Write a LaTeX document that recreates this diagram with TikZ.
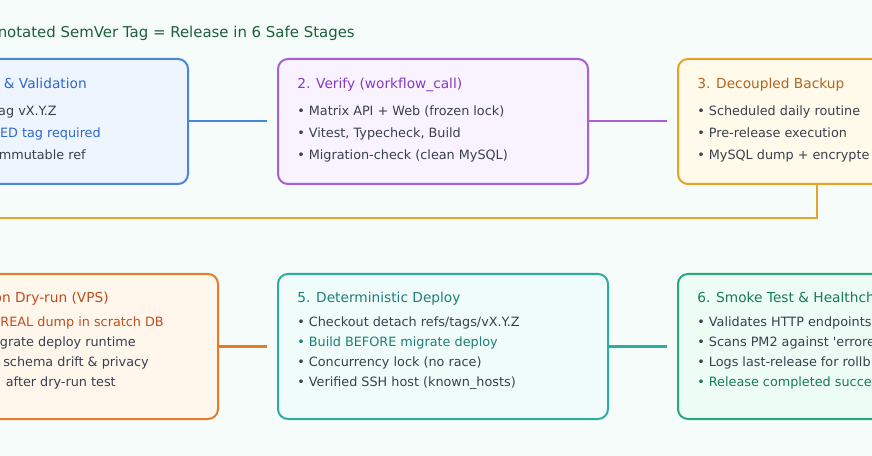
\documentclass[tikz,border=0pt]{standalone}
\usepackage{fontspec}
\setmainfont{DejaVu Sans}
\usepackage{xcolor}
\usepackage{tikz}
\usetikzlibrary{positioning}
\definecolor{fond}{RGB}{246,252,249}
\definecolor{titre}{RGB}{30,95,58}
\definecolor{encre}{RGB}{58,64,78}
\definecolor{bleu}{RGB}{74,134,216}
\definecolor{bleuf}{RGB}{47,104,200}
\definecolor{bleuc}{RGB}{238,245,255}
\definecolor{mauve}{RGB}{166,95,214}
\definecolor{mauvef}{RGB}{137,59,191}
\definecolor{mauvec}{RGB}{249,242,255}
\definecolor{ambre}{RGB}{231,163,40}
\definecolor{ambref}{RGB}{179,101,32}
\definecolor{ambrec}{RGB}{255,250,234}
\definecolor{orange}{RGB}{232,122,42}
\definecolor{orangef}{RGB}{190,78,30}
\definecolor{orangec}{RGB}{255,246,236}
\definecolor{sarcelle}{RGB}{43,174,160}
\definecolor{sarcellef}{RGB}{30,128,118}
\definecolor{sarcellec}{RGB}{239,252,250}
\definecolor{vert}{RGB}{40,168,125}
\definecolor{vertf}{RGB}{24,122,88}
\definecolor{vertc}{RGB}{237,252,245}
\newcommand{\fcorps}{\fontsize{9.6}{11}\selectfont}
\newcommand{\ftitre}{\fontsize{10.3}{12}\selectfont}
\newcommand{\fentete}{\fontsize{11.2}{13}\selectfont}

\begin{document}
\begin{tikzpicture}[x=0.75pt, y=-0.75pt,
  etape/.style 2 args={rectangle, rounded corners=7.5pt, draw=#1, fill=#2, line width=1.5pt,
                anchor=north west, inner sep=0pt},
  lien/.style={draw=#1, line width=1.5pt, shorten >=7.5pt},
  t/.style={anchor=base west, inner sep=0pt, font=\fcorps, text=encre},
  tc/.style={anchor=base east, inner sep=0pt, font=\fcorps, text=encre}]

\useasboundingbox (0,0) rectangle (872,456);
\fill[fond] (0,0) rectangle (872,456);
\clip (0,0) rectangle (872,456);

\node[anchor=base east, inner sep=0pt, font=\fentete, text=titre] (entete) at (355,38)
  {notated SemVer Tag = Release in 6 Safe Stages};

% les six etapes
\node[etape={bleu}{bleuc}, minimum width=232.5pt, minimum height=93.75pt] (e1) at (-123,58) {};
\node[etape={mauve}{mauvec}, minimum width=232.5pt, minimum height=93.75pt] (e2) at (277,58) {};
\node[etape={ambre}{ambrec}, minimum width=232.5pt, minimum height=93.75pt] (e3) at (677,58) {};
\node[etape={orange}{orangec}, minimum width=247.5pt, minimum height=108.75pt] (e4) at (-113,273) {};
\node[etape={sarcelle}{sarcellec}, minimum width=247.5pt, minimum height=108.75pt] (e5) at (277,273) {};
\node[etape={vert}{vertc}, minimum width=247.5pt, minimum height=108.75pt] (e6) at (677,273) {};

% liaisons
\draw[lien=bleu] (e1) -- (e2);
\draw[lien=mauve] (e2) -- (e3);
\coordinate (s3) at ([xshift=105pt]e3.south west);
\coordinate (k3) at (-60,218);
\draw[lien=ambre] (s3) |- (k3) -- (k3 |- e4.north);
\draw[lien=orange] (e4) -- (e5);
\draw[lien=sarcelle] (e5) -- (e6);

% etape 1
\node[tc, font=\ftitre, text=bleuf] (e1t) at (87,89) {\& Validation};
\node[tc] (e1a) at (57,115.5) {ag vX.Y.Z};
\node[tc, text=bleuf] (e1b) at (101,137.7) {ED tag required};
\node[tc] (e1c) at (86,160) {mmutable ref};

% etape 2
\node[t, font=\ftitre, text=mauvef] (e2t) at (297,89) {2. Verify (workflow\_call)};
\node[t] (e2a) at (297,115.5) {• Matrix API + Web (frozen lock)};
\node[t] (e2b) at (297,137.7) {• Vitest, Typecheck, Build};
\node[t] (e2c) at (297,160) {• Migration-check (clean MySQL)};

% etape 3
\node[t, font=\ftitre, text=ambref] (e3t) at (697,89) {3. Decoupled Backup};
\node[t] (e3a) at (697,115.5) {• Scheduled daily routine};
\node[t] (e3b) at (697,137.7) {• Pre-release execution};
\node[t] (e3c) at (697,160) {• MySQL dump + encrypte};

% etape 4
\node[tc, font=\ftitre, text=orangef] (e4t) at (109,302.5) {on Dry-run (VPS)};
\node[tc, text=orangef] (e4a) at (164,326.5) {REAL dump in scratch DB};
\node[tc] (e4b) at (136,346.5) {grate deploy runtime};
\node[tc] (e4c) at (149,366.5) {schema drift \& privacy};
\node[tc] (e4d) at (116,386.5) {after dry-run test};

% etape 5
\node[t, font=\ftitre, text=sarcellef] (e5t) at (297,302.5) {5. Deterministic Deploy};
\node[t] (e5a) at (297,326.5) {• Checkout detach refs/tags/vX.Y.Z};
\node[t, text=sarcellef] (e5b) at (297,346.5) {• Build BEFORE migrate deploy};
\node[t] (e5c) at (297,366.5) {• Concurrency lock (no race)};
\node[t] (e5d) at (297,386.5) {• Verified SSH host (known\_hosts)};

% etape 6
\node[t, font=\ftitre, text=vertf] (e6t) at (697,302.5) {6. Smoke Test \& Healthch};
\node[t] (e6a) at (697,326.5) {• Validates HTTP endpoints};
\node[t] (e6b) at (697,346.5) {• Scans PM2 against \textquotesingle errore};
\node[t] (e6c) at (697,366.5) {• Logs last-release for rollb};
\node[t, text=vertf] (e6d) at (697,386.5) {• Release completed succe};

\end{tikzpicture}
\end{document}
